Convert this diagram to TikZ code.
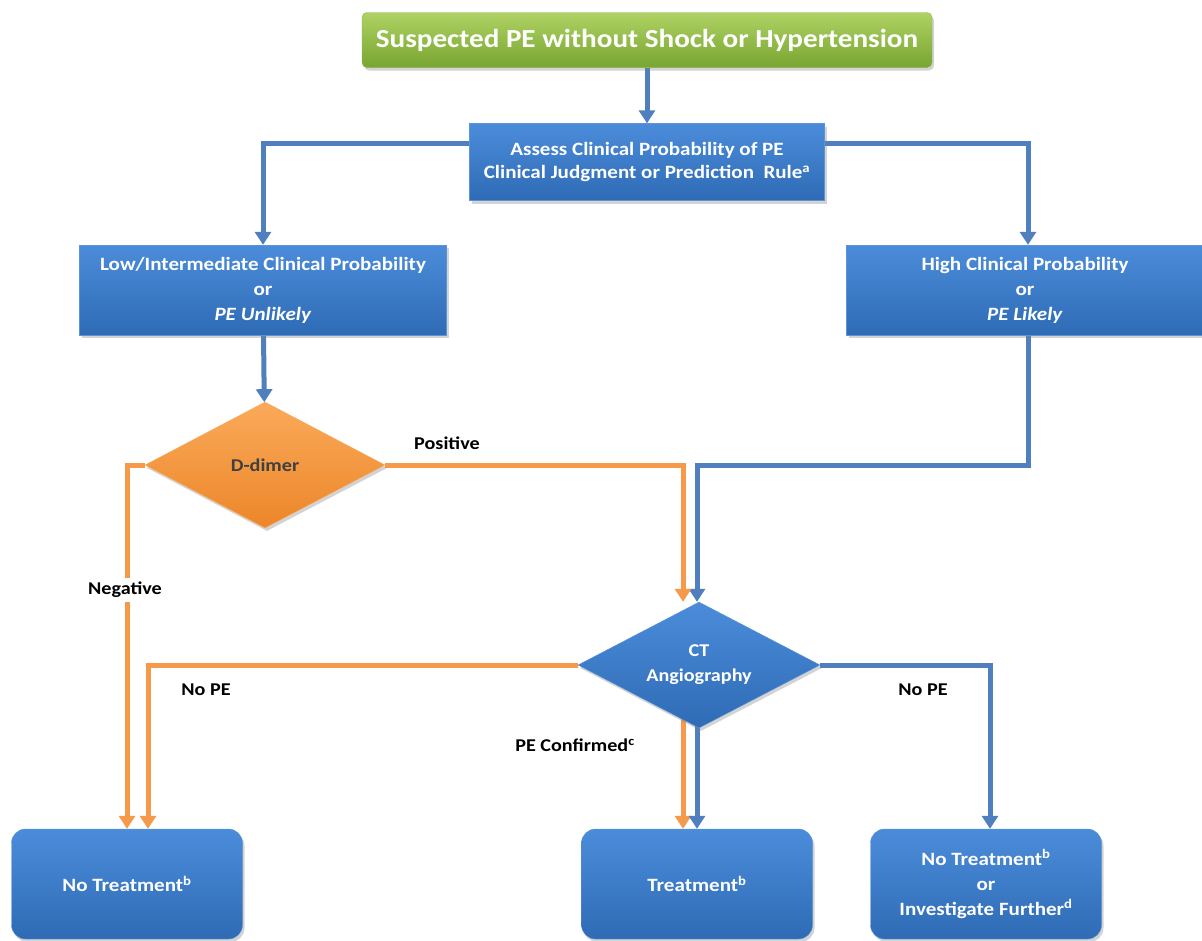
\documentclass[tikz,border=0pt]{standalone}
\usepackage{fontspec}
\setmainfont{Carlito}[FakeStretch=1.12]
\usetikzlibrary{shapes.geometric,arrows.meta,positioning,calc,shadows,backgrounds}

\definecolor{greentop}{HTML}{AED263}
\definecolor{greenbot}{HTML}{79A532}
\definecolor{greenedge}{HTML}{8DB24A}
\definecolor{boxtop}{HTML}{4B8CDA}
\definecolor{boxbot}{HTML}{2F6BB5}
\definecolor{boxedge}{HTML}{5B95D8}
\definecolor{dimtop}{HTML}{FAAA5A}
\definecolor{dimbot}{HTML}{EC8629}
\definecolor{lineblue}{HTML}{4F7FBE}
\definecolor{lineorange}{HTML}{F59A4A}

\begin{document}
\begin{tikzpicture}[
    x=1pt, y=-1pt,
    font=\fontsize{18}{25}\selectfont\bfseries,
    >={Triangle[length=13pt,width=16pt]},
    shade/.style={drop shadow={opacity=0.35, shadow xshift=2pt, shadow yshift=-3pt}},
    startbox/.style={rectangle, rounded corners=5pt, draw=greenedge,
                  top color=greentop, bottom color=greenbot, text=white,
                  minimum width=570pt, minimum height=55pt, shade,
                  font=\fontsize{26}{30}\selectfont\bfseries},
    block/.style={rectangle, draw=boxedge, top color=boxtop,
                  bottom color=boxbot, text=white, align=center, shade,
                  font=\fontsize{18.8}{25}\selectfont\bfseries},
    endbox/.style={block, rounded corners=14pt,
                  minimum width=231pt, minimum height=110pt},
    decide/.style={diamond, aspect=1.9, inner sep=0pt, align=center,
                  draw=boxedge, top color=boxtop, bottom color=boxbot,
                  text=white, shade, minimum width=242pt, minimum height=126pt},
    ddim/.style ={decide, draw=dimtop, top color=dimtop,
                  bottom color=dimbot, text=black!75, minimum width=240pt},
    bline/.style={->, draw=lineblue, line width=5pt},
    oline/.style={->, draw=lineorange, line width=5pt},
    tag/.style  ={text=black, inner sep=2pt}
]
\path[use as bounding box, clip] (0,0) rectangle (1202,940);

%–––– TOP ––––––––––––––––––––––––––––––––––––––––––
\node (suspect) [startbox] at (647,40) {Suspected PE without Shock or Hypertension};
\node (assess)  [block, minimum width=355pt, minimum height=77pt] at (647,162)
  {Assess Clinical Probability of PE\\[-2pt]Clinical Judgment or Prediction\ \ Rule\textsuperscript{a}};

%–––– PROBABILITY –––––––––––––––––––––––––––––––––––
\node (low)  [block, minimum width=367pt, minimum height=90pt] at (263,290)
  {Low/Intermediate Clinical Probability\\or\\\textit{PE Unlikely}};
\node (high) [block, minimum width=357pt, minimum height=90pt] at (1025,290)
  {High Clinical Probability\\or\\\textit{PE Likely}};

%–––– TESTS –––––––––––––––––––––––––––––––––––––––––
\node (dimer) [ddim]   at (265,465) {D-dimer};
\node (ct)    [decide] at (699,665) {CT\\Angiography};

%–––– OUTCOMES ––––––––––––––––––––––––––––––––––––––
\node (notreat) [endbox] at (127,884) {No Treatment\textsuperscript{b}};
\node (treat)   [endbox] at (697,884) {Treatment\textsuperscript{b}};
\node (further) [endbox] at (986,884)
  {No Treatment\textsuperscript{b}\\or\\Investigate Further\textsuperscript{d}};

% labels on the branches
\node (pos)  [tag] at (447,443) {Positive};
\node (neg)  [tag, fill=white, inner sep=4pt] at (125,590) {Negative};
\node (nope) [tag] at (206,690) {No PE};
\node (nopr) [tag] at (923,690) {No PE};
\node (conf) [tag] at (575,745) {PE Confirmed\textsuperscript{c}};

%–––– CONNECTORS ––––––––––––––––––––––––––––––––––––
\begin{scope}[on background layer]
  \draw[bline] (suspect) -- (assess);
  \draw[bline] ([yshift=19pt]assess.west) -| (low.north);
  \draw[bline] ([yshift=19pt]assess.east) -| ([xshift=3pt]high.north);
  \draw[bline] (low) -- (dimer);
  \draw[bline] ([xshift=3pt]high.south) |- ($(dimer.east)+(430,0)$) -| ([xshift=-2pt]ct.north);

  \draw[oline] (dimer.west) -| (notreat.north);
  \draw[oline] (dimer.east) -| ([xshift=-16pt]ct.north);
  \draw[oline] (ct.west) -| ([xshift=21pt]notreat.north);

  \draw[oline] ([xshift=-16pt]ct.center) -- ([xshift=-14pt]treat.north);
  \draw[bline] ([xshift=-2pt]ct.center) -- (treat.north);
  \draw[bline] (ct.east) -| ([xshift=4pt]further.north);
\end{scope}
\end{tikzpicture}
\end{document}
